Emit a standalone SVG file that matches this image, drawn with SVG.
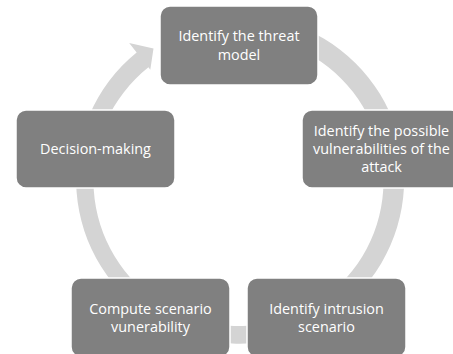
<svg xmlns="http://www.w3.org/2000/svg" width="453" height="354" viewBox="0 0 453 354">
<style>
.box{fill:#808080;stroke:#ffffff;stroke-width:1.5}
.t{font-family:"Open Sans","Liberation Sans",sans-serif;font-size:14.4px;fill:#ffffff;text-anchor:middle}
.ring{fill:#d4d4d4}
</style>
<rect width="453" height="354" fill="#ffffff"/>
<g id="connectors">
<path class="ring" d="M209.85,18.51 A164,164 0 1 1 136.64,52.47 L129.18,43.07 L153.5,48.5 L150.29,69.83 L148.43,67.36 A145,145 0 1 0 213.32,38.20 Z"/>
</g>
<g id="node-threat">
<rect class="box" x="160" y="6" width="158" height="79" rx="10"/>
<text class="t" x="239" y="41">Identify the threat</text>
<text class="t" x="239" y="59.5">model</text>
</g>
<g id="node-vulnerabilities">
<rect class="box" x="302" y="110" width="159" height="78" rx="10"/>
<text class="t" x="381.5" y="135.5">Identify the possible</text>
<text class="t" x="381.5" y="153.5">vulnerabilities of the</text>
<text class="t" x="381.5" y="171.5">attack</text>
</g>
<g id="node-intrusion">
<rect class="box" x="247" y="278" width="159" height="79" rx="10"/>
<text class="t" x="326.5" y="313.5">Identify intrusion</text>
<text class="t" x="326.5" y="331.5">scenario</text>
</g>
<g id="node-compute">
<rect class="box" x="71" y="278" width="159" height="79" rx="10"/>
<text class="t" x="150.5" y="313.5">Compute scenario</text>
<text class="t" x="150.5" y="331.5">vunerability</text>
</g>
<g id="node-decision">
<rect class="box" x="16" y="110" width="159" height="78" rx="10"/>
<text class="t" x="95.5" y="154">Decision-making</text>
</g>
</svg>
